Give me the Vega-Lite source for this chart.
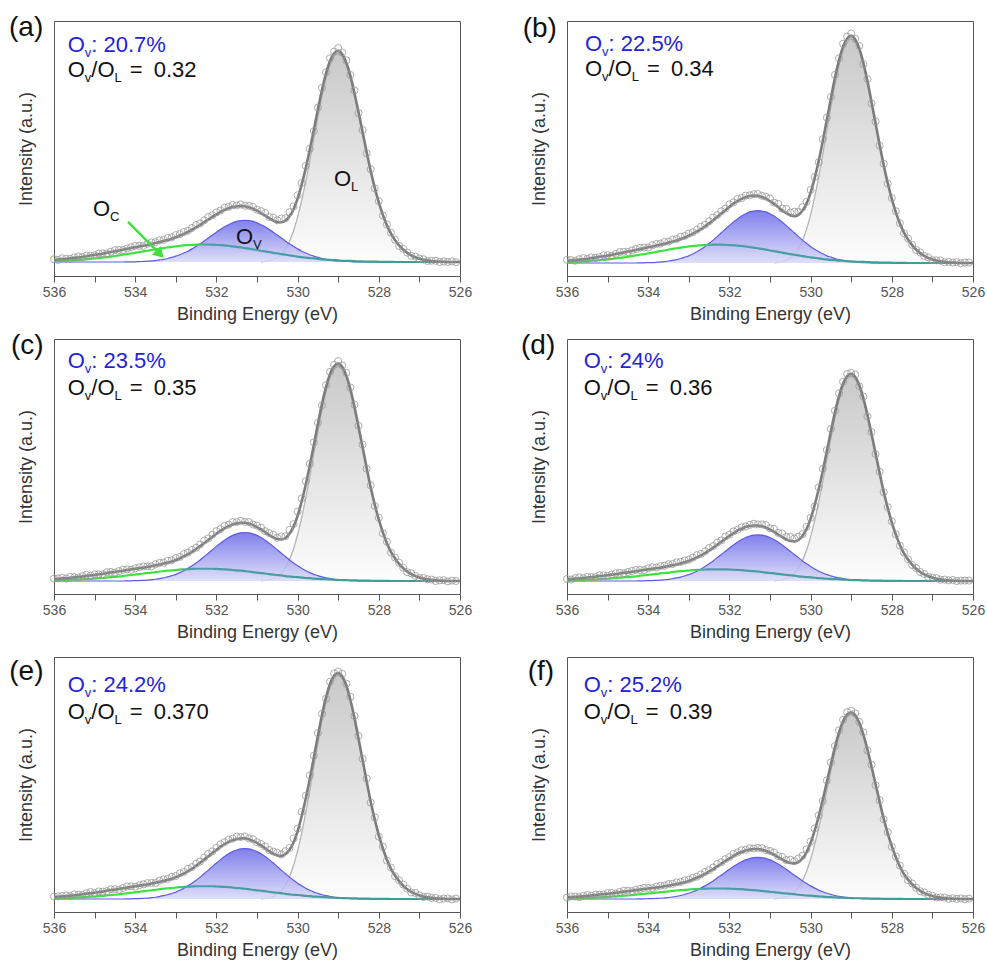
{
"$schema": "https://vega.github.io/schema/vega-lite/v6.json",
"background": "white",
"padding": {"left": 8, "top": 13, "right": 2, "bottom": 2},
"config": {"font": "Liberation Sans", "view": {"stroke": "#555", "strokeWidth": 1}, "axis": {"labelFont": "Liberation Sans", "titleFont": "Liberation Sans"}, "text": {"font": "Liberation Sans"}},
"datasets": {"xps": [
{"E":536.0,"VA":0,"VB":0,"VG":0,"CA":0.4,"CB":0.4,"CG":0.3,"FA":1.0,"FB":1.0,"FG":0.9,"oa":1.3,"ob":1.4,"oc":1.1,"od":1.0,"oe":1.1,"of":0.7},
{"E":535.9,"VA":0,"VB":0,"VG":0,"CA":0.5,"CB":0.5,"CG":0.3,"FA":1.2,"FB":1.2,"FG":1.0,"oa":1.0,"ob":1.3,"oc":1.2,"od":0.7,"oe":1.2,"of":1.4},
{"E":535.8,"VA":0,"VB":0,"VG":0,"CA":0.6,"CB":0.5,"CG":0.4,"FA":1.4,"FB":1.3,"FG":1.2,"oa":1.8,"ob":1.0,"oc":1.5,"od":1.4,"oe":1.4,"of":1.3},
{"E":535.7,"VA":0,"VB":0,"VG":0,"CA":0.6,"CB":0.6,"CG":0.4,"FA":1.5,"FB":1.5,"FG":1.3,"oa":1.6,"ob":1.7,"oc":1.1,"od":1.8,"oe":1.6,"of":1.0},
{"E":535.6,"VA":0,"VB":0,"VG":0,"CA":0.8,"CB":0.7,"CG":0.5,"FA":1.8,"FB":1.7,"FG":1.5,"oa":1.5,"ob":2.2,"oc":1.9,"od":1.4,"oe":1.3,"of":1.7},
{"E":535.5,"VA":0,"VB":0,"VG":0,"CA":0.9,"CB":0.8,"CG":0.6,"FA":2.0,"FB":1.9,"FG":1.7,"oa":2.2,"ob":1.8,"oc":1.8,"od":2.0,"oe":2.1,"of":2.2},
{"E":535.4,"VA":0,"VB":0,"VG":0,"CA":1.0,"CB":1.0,"CG":0.7,"FA":2.2,"FB":2.2,"FG":1.9,"oa":2.7,"ob":2.5,"oc":1.6,"od":1.9,"oe":2.0,"of":1.8},
{"E":535.3,"VA":0,"VB":0,"VG":0,"CA":1.1,"CB":1.1,"CG":0.8,"FA":2.4,"FB":2.4,"FG":2.1,"oa":2.3,"ob":2.4,"oc":2.3,"od":1.9,"oe":1.8,"of":2.4},
{"E":535.2,"VA":0,"VB":0,"VG":0,"CA":1.3,"CB":1.3,"CG":0.9,"FA":2.8,"FB":2.8,"FG":2.4,"oa":3.1,"ob":2.6,"oc":2.9,"od":2.8,"oe":2.6,"of":2.4},
{"E":535.1,"VA":0,"VB":0,"VG":0,"CA":1.5,"CB":1.4,"CG":1.0,"FA":3.1,"FB":3.0,"FG":2.6,"oa":3.1,"ob":3.4,"oc":2.5,"od":2.8,"oe":3.1,"of":2.4},
{"E":535.0,"VA":0,"VB":0,"VG":0,"CA":1.7,"CB":1.6,"CG":1.1,"FA":3.4,"FB":3.3,"FG":2.8,"oa":3.2,"ob":3.5,"oc":3.1,"od":2.5,"oe":2.7,"of":3.2},
{"E":534.9,"VA":0,"VB":0,"VG":0,"CA":1.9,"CB":1.8,"CG":1.3,"FA":3.7,"FB":3.6,"FG":3.1,"oa":4.1,"ob":3.3,"oc":3.1,"od":3.2,"oe":3.4,"of":3.3},
{"E":534.8,"VA":0,"VB":0,"VG":0,"CA":2.1,"CB":2.1,"CG":1.4,"FA":4.0,"FB":4.0,"FG":3.3,"oa":4.2,"ob":4.1,"oc":3.1,"od":3.8,"oe":3.3,"of":3.0},
{"E":534.7,"VA":0,"VB":0,"VG":0,"CA":2.3,"CB":2.3,"CG":1.6,"FA":4.4,"FB":4.4,"FG":3.7,"oa":4.1,"ob":4.9,"oc":4.1,"od":4.0,"oe":3.5,"of":3.8},
{"E":534.6,"VA":0,"VB":0,"VG":0,"CA":2.6,"CB":2.5,"CG":1.8,"FA":4.8,"FB":4.7,"FG":4.0,"oa":4.9,"ob":5.0,"oc":4.2,"od":3.8,"oe":4.4,"of":4.5},
{"E":534.5,"VA":0,"VB":0,"VG":0,"CA":2.9,"CB":2.8,"CG":1.9,"FA":5.2,"FB":5.1,"FG":4.2,"oa":5.7,"ob":4.9,"oc":3.9,"od":4.4,"oe":4.4,"of":4.5},
{"E":534.4,"VA":0,"VB":0,"VG":0,"CA":3.2,"CB":3.1,"CG":2.1,"FA":5.5,"FB":5.4,"FG":4.5,"oa":5.8,"ob":5.6,"oc":4.6,"od":4.9,"oe":4.2,"of":4.3},
{"E":534.3,"VA":0,"VB":0,"VG":0,"CA":3.5,"CB":3.4,"CG":2.3,"FA":5.9,"FB":5.8,"FG":4.8,"oa":5.7,"ob":6.2,"oc":5.3,"od":5.4,"oe":4.9,"of":5.0},
{"E":534.2,"VA":0.1,"VB":0.1,"VG":0.1,"CA":3.8,"CB":3.7,"CG":2.6,"FA":6.3,"FB":6.2,"FG":5.1,"oa":6.5,"ob":6.8,"oc":5.4,"od":5.4,"oe":5.6,"of":5.5},
{"E":534.1,"VA":0.1,"VB":0.1,"VG":0.1,"CA":4.1,"CB":4.0,"CG":2.8,"FA":6.7,"FB":6.6,"FG":5.4,"oa":7.1,"ob":6.9,"oc":5.2,"od":5.3,"oe":5.7,"of":6.0},
{"E":534.0,"VA":0.1,"VB":0.2,"VG":0.2,"CA":4.4,"CB":4.3,"CG":3.0,"FA":7.1,"FB":7.0,"FG":5.7,"oa":7.7,"ob":6.9,"oc":5.9,"od":6.2,"oe":5.5,"of":6.0},
{"E":533.9,"VA":0.2,"VB":0.2,"VG":0.2,"CA":4.8,"CB":4.6,"CG":3.2,"FA":7.5,"FB":7.4,"FG":6.0,"oa":7.8,"ob":7.9,"oc":6.4,"od":6.7,"oe":6.2,"of":5.9},
{"E":533.8,"VA":0.3,"VB":0.3,"VG":0.3,"CA":5.1,"CB":5.0,"CG":3.5,"FA":7.8,"FB":7.8,"FG":6.2,"oa":7.7,"ob":8.5,"oc":6.8,"od":6.6,"oe":6.6,"of":6.7},
{"E":533.7,"VA":0.4,"VB":0.5,"VG":0.4,"CA":5.4,"CB":5.3,"CG":3.7,"FA":8.2,"FB":8.2,"FG":6.5,"oa":8.7,"ob":8.6,"oc":6.8,"od":7.3,"oe":7.1,"of":7.2},
{"E":533.6,"VA":0.5,"VB":0.6,"VG":0.6,"CA":5.8,"CB":5.6,"CG":3.9,"FA":8.7,"FB":8.6,"FG":6.9,"oa":9.4,"ob":9.4,"oc":6.8,"od":7.4,"oe":7.2,"of":7.3},
{"E":533.5,"VA":0.7,"VB":0.9,"VG":0.8,"CA":6.1,"CB":6.0,"CG":4.1,"FA":9.1,"FB":9.1,"FG":7.3,"oa":9.5,"ob":9.6,"oc":7.8,"od":8.2,"oe":7.2,"of":8.1},
{"E":533.4,"VA":1.0,"VB":1.2,"VG":1.1,"CA":6.4,"CB":6.3,"CG":4.4,"FA":9.6,"FB":9.6,"FG":7.7,"oa":10.4,"ob":10.5,"oc":8.4,"od":8.3,"oe":8.2,"of":8.2},
{"E":533.3,"VA":1.3,"VB":1.5,"VG":1.5,"CA":6.7,"CB":6.6,"CG":4.6,"FA":10.1,"FB":10.1,"FG":8.1,"oa":10.6,"ob":10.7,"oc":8.5,"od":9.1,"oe":8.8,"of":9.0},
{"E":533.2,"VA":1.7,"VB":2.0,"VG":1.9,"CA":7.0,"CB":6.9,"CG":4.8,"FA":10.6,"FB":10.7,"FG":8.6,"oa":11.5,"ob":11.7,"oc":9.4,"od":9.3,"oe":9.0,"of":9.2},
{"E":533.1,"VA":2.2,"VB":2.6,"VG":2.5,"CA":7.3,"CB":7.1,"CG":4.9,"FA":11.2,"FB":11.4,"FG":9.1,"oa":11.8,"ob":12.1,"oc":9.6,"od":10.0,"oe":9.9,"of":10.1},
{"E":533.0,"VA":2.8,"VB":3.2,"VG":3.1,"CA":7.5,"CB":7.4,"CG":5.1,"FA":11.9,"FB":12.2,"FG":9.8,"oa":12.9,"ob":13.1,"oc":10.7,"od":10.4,"oe":10.3,"of":10.5},
{"E":532.9,"VA":3.5,"VB":4.1,"VG":3.9,"CA":7.8,"CB":7.6,"CG":5.3,"FA":12.7,"FB":13.1,"FG":10.6,"oa":13.4,"ob":13.7,"oc":11.2,"od":11.4,"oe":11.5,"of":11.5},
{"E":532.8,"VA":4.3,"VB":5.0,"VG":4.8,"CA":8.0,"CB":7.8,"CG":5.4,"FA":13.5,"FB":14.1,"FG":11.5,"oa":14.4,"ob":14.9,"oc":12.5,"od":12.6,"oe":12.1,"of":12.1},
{"E":532.7,"VA":5.2,"VB":6.1,"VG":5.9,"CA":8.1,"CB":7.9,"CG":5.5,"FA":14.4,"FB":15.1,"FG":12.5,"oa":15.0,"ob":16.2,"oc":13.2,"od":13.2,"oe":13.5,"of":13.3},
{"E":532.6,"VA":6.3,"VB":7.4,"VG":7.1,"CA":8.2,"CB":8.0,"CG":5.6,"FA":15.5,"FB":16.4,"FG":13.6,"oa":16.3,"ob":17.1,"oc":14.5,"od":14.5,"oe":14.3,"of":14.7},
{"E":532.5,"VA":7.5,"VB":8.7,"VG":8.4,"CA":8.3,"CB":8.1,"CG":5.7,"FA":16.6,"FB":17.7,"FG":14.9,"oa":17.7,"ob":18.6,"oc":15.5,"od":16.1,"oe":15.8,"of":15.6},
{"E":532.4,"VA":8.7,"VB":10.2,"VG":9.8,"CA":8.4,"CB":8.2,"CG":5.7,"FA":17.8,"FB":19.1,"FG":16.2,"oa":18.5,"ob":20.3,"oc":17.0,"od":17.0,"oe":16.8,"of":17.1},
{"E":532.3,"VA":10.1,"VB":11.8,"VG":11.4,"CA":8.4,"CB":8.2,"CG":5.7,"FA":19.1,"FB":20.6,"FG":17.7,"oa":20.0,"ob":21.4,"oc":18.8,"od":18.7,"oe":18.5,"of":18.9},
{"E":532.2,"VA":11.5,"VB":13.5,"VG":12.9,"CA":8.4,"CB":8.2,"CG":5.7,"FA":20.4,"FB":22.1,"FG":19.1,"oa":21.6,"ob":23.1,"oc":19.8,"od":19.8,"oe":20.2,"of":19.9},
{"E":532.1,"VA":12.9,"VB":15.1,"VG":14.5,"CA":8.3,"CB":8.1,"CG":5.7,"FA":21.6,"FB":23.6,"FG":20.6,"oa":22.4,"ob":24.3,"oc":21.5,"od":21.7,"oe":21.3,"of":21.6},
{"E":532.0,"VA":14.3,"VB":16.7,"VG":16.1,"CA":8.2,"CB":8.0,"CG":5.6,"FA":22.8,"FB":25.1,"FG":22.0,"oa":23.8,"ob":26.2,"oc":23.2,"od":22.6,"oe":22.9,"of":22.7},
{"E":531.9,"VA":15.6,"VB":18.3,"VG":17.6,"CA":8.1,"CB":7.9,"CG":5.5,"FA":24.0,"FB":26.5,"FG":23.3,"oa":24.7,"ob":27.1,"oc":24.1,"od":24.2,"oe":24.5,"of":24.4},
{"E":531.8,"VA":16.9,"VB":19.7,"VG":19.0,"CA":8.0,"CB":7.8,"CG":5.4,"FA":25.0,"FB":27.7,"FG":24.6,"oa":26.1,"ob":28.6,"oc":25.6,"od":25.0,"oe":25.4,"of":25.2},
{"E":531.7,"VA":17.9,"VB":21.0,"VG":20.2,"CA":7.8,"CB":7.6,"CG":5.3,"FA":25.8,"FB":28.6,"FG":25.5,"oa":26.4,"ob":29.0,"oc":26.2,"od":26.2,"oe":26.5,"of":26.4},
{"E":531.6,"VA":18.8,"VB":22.0,"VG":21.2,"CA":7.5,"CB":7.4,"CG":5.1,"FA":26.4,"FB":29.4,"FG":26.3,"oa":27.3,"ob":30.1,"oc":27.4,"od":26.6,"oe":27.0,"of":26.7},
{"E":531.5,"VA":19.5,"VB":22.8,"VG":21.9,"CA":7.3,"CB":7.1,"CG":4.9,"FA":26.7,"FB":29.9,"FG":26.8,"oa":27.1,"ob":30.2,"oc":27.4,"od":27.4,"oe":27.9,"of":27.5},
{"E":531.4,"VA":19.9,"VB":23.2,"VG":22.4,"CA":7.0,"CB":6.9,"CG":4.8,"FA":26.9,"FB":30.1,"FG":27.1,"oa":27.6,"ob":30.7,"oc":28.0,"od":27.9,"oe":27.7,"of":27.4},
{"E":531.3,"VA":20.0,"VB":23.4,"VG":22.5,"CA":6.7,"CB":6.6,"CG":4.6,"FA":26.7,"FB":30.0,"FG":27.1,"oa":27.0,"ob":30.8,"oc":27.5,"od":27.6,"oe":28.0,"of":27.7},
{"E":531.2,"VA":19.9,"VB":23.2,"VG":22.4,"CA":6.4,"CB":6.3,"CG":4.4,"FA":26.3,"FB":29.5,"FG":26.7,"oa":26.9,"ob":30.0,"oc":27.4,"od":27.6,"oe":27.1,"of":27.5},
{"E":531.1,"VA":19.5,"VB":22.8,"VG":21.9,"CA":6.1,"CB":6.0,"CG":4.1,"FA":25.6,"FB":28.7,"FG":26.0,"oa":26.4,"ob":29.6,"oc":26.3,"od":27.2,"oe":26.7,"of":26.5},
{"E":531.0,"VA":18.8,"VB":22.0,"VG":21.2,"CA":5.8,"CB":5.6,"CG":3.9,"FA":24.6,"FB":27.6,"FG":25.1,"oa":25.1,"ob":28.8,"oc":25.7,"od":25.7,"oe":25.4,"of":26.0},
{"E":530.9,"L":0.1,"VA":17.9,"VB":21.0,"VG":20.2,"CA":5.4,"CB":5.3,"CG":3.7,"FA":23.5,"FB":26.4,"FG":24.0,"oa":24.4,"ob":27.0,"oc":24.8,"od":25.4,"oe":24.6,"of":25.2},
{"E":530.8,"L":0.3,"VA":16.9,"VB":19.7,"VG":19.0,"CA":5.1,"CB":5.0,"CG":3.5,"FA":22.3,"FB":25.0,"FG":22.7,"oa":23.5,"ob":26.4,"oc":23.2,"od":23.5,"oe":23.5,"of":23.3},
{"E":530.7,"L":0.6,"VA":15.6,"VB":18.3,"VG":17.6,"CA":4.8,"CB":4.6,"CG":3.2,"FA":21.0,"FB":23.5,"FG":21.4,"oa":21.6,"ob":24.3,"oc":22.3,"od":23.2,"oe":21.9,"of":22.8},
{"E":530.6,"L":1.2,"VA":14.3,"VB":16.7,"VG":16.1,"CA":4.4,"CB":4.3,"CG":3.0,"FA":19.9,"FB":22.3,"FG":20.3,"oa":21.3,"ob":24.1,"oc":21.5,"od":21.5,"oe":21.2,"of":21.1},
{"E":530.5,"L":2.2,"VA":12.9,"VB":15.1,"VG":14.5,"CA":4.1,"CB":4.0,"CG":2.8,"FA":19.2,"FB":21.3,"FG":19.5,"oa":20.0,"ob":22.5,"oc":20.1,"od":21.5,"oe":20.7,"of":21.3},
{"E":530.4,"L":3.8,"VA":11.5,"VB":13.5,"VG":12.9,"CA":3.8,"CB":3.7,"CG":2.6,"FA":19.1,"FB":20.9,"FG":19.3,"oa":20.9,"ob":22.9,"oc":20.7,"od":20.7,"oe":19.9,"of":20.5},
{"E":530.3,"L":6.3,"VA":10.1,"VB":11.8,"VG":11.4,"CA":3.5,"CB":3.4,"CG":2.3,"FA":19.8,"FB":21.5,"FG":20.0,"oa":21.0,"ob":22.9,"oc":20.8,"od":21.6,"oe":21.4,"of":22.0},
{"E":530.2,"L":10,"VA":8.7,"VB":10.2,"VG":9.8,"CA":3.2,"CB":3.1,"CG":2.1,"FA":21.9,"FB":23.3,"FG":22.0,"oa":23.9,"ob":24.9,"oc":23.8,"od":22.8,"oe":22.8,"of":23.4},
{"E":530.1,"L":15,"VA":7.5,"VB":8.7,"VG":8.4,"CA":2.9,"CB":2.8,"CG":1.9,"FA":25.3,"FB":26.5,"FG":25.3,"oa":26.7,"ob":27.3,"oc":26.5,"od":26.5,"oe":27.1,"of":26.9},
{"E":530.0,"L":21.5,"VA":6.3,"VB":7.4,"VG":7.1,"CA":2.6,"CB":2.5,"CG":1.8,"FA":30.4,"FB":31.4,"FG":30.3,"oa":32.0,"ob":32.6,"oc":32.3,"od":30.8,"oe":31.5,"of":31.1},
{"E":529.9,"L":29.5,"VA":5.2,"VB":6.1,"VG":5.9,"CA":2.3,"CB":2.3,"CG":1.6,"FA":37.1,"FB":37.9,"FG":37.0,"oa":37.9,"ob":38.4,"oc":38.4,"od":36.4,"oe":39.0,"of":38.2},
{"E":529.8,"L":38.5,"VA":4.3,"VB":5.0,"VG":4.8,"CA":2.1,"CB":2.1,"CG":1.4,"FA":44.9,"FB":45.6,"FG":44.8,"oa":46.1,"ob":45.0,"oc":46.4,"od":45.7,"oe":46.2,"of":45.3},
{"E":529.7,"L":48.5,"VA":3.5,"VB":4.1,"VG":3.9,"CA":1.9,"CB":1.8,"CG":1.3,"FA":53.8,"FB":54.4,"FG":53.7,"oa":54.3,"ob":55.3,"oc":54.5,"od":54.7,"oe":55.3,"of":53.1},
{"E":529.6,"L":59,"VA":2.8,"VB":3.2,"VG":3.1,"CA":1.7,"CB":1.6,"CG":1.1,"FA":63.4,"FB":63.9,"FG":63.3,"oa":62.8,"ob":64.9,"oc":64.5,"od":63.9,"oe":64.1,"of":64.2},
{"E":529.5,"L":69.5,"VA":2.2,"VB":2.6,"VG":2.5,"CA":1.5,"CB":1.4,"CG":1.0,"FA":73.2,"FB":73.5,"FG":73.0,"oa":74.1,"ob":74.1,"oc":73.5,"od":74.2,"oe":74.2,"of":74.0},
{"E":529.4,"L":79.5,"VA":1.7,"VB":2.0,"VG":1.9,"CA":1.3,"CB":1.3,"CG":0.9,"FA":82.5,"FB":82.8,"FG":82.3,"oa":83.5,"ob":84.0,"oc":81.7,"od":83.1,"oe":82.8,"of":82.9},
{"E":529.3,"L":88,"VA":1.3,"VB":1.5,"VG":1.5,"CA":1.1,"CB":1.1,"CG":0.8,"FA":90.4,"FB":90.6,"FG":90.2,"oa":91.0,"ob":91.4,"oc":91.1,"od":91.5,"oe":89.6,"of":91.4},
{"E":529.2,"L":94.5,"VA":1.0,"VB":1.2,"VG":1.1,"CA":1.0,"CB":1.0,"CG":0.7,"FA":96.5,"FB":96.6,"FG":96.3,"oa":97.7,"ob":97.9,"oc":97.3,"od":97.2,"oe":97.2,"of":97.1},
{"E":529.1,"L":98.5,"VA":0.7,"VB":0.9,"VG":0.8,"CA":0.9,"CB":0.8,"CG":0.6,"FA":100.1,"FB":100.2,"FG":99.9,"oa":100.9,"ob":101.1,"oc":100.5,"od":101.0,"oe":100.9,"of":101.2},
{"E":529.0,"L":100,"VA":0.5,"VB":0.6,"VG":0.6,"CA":0.8,"CB":0.7,"CG":0.5,"FA":101.3,"FB":101.4,"FG":101.1,"oa":102.6,"ob":102.5,"oc":102.3,"od":101.5,"oe":101.7,"of":102.0},
{"E":528.9,"L":98.6,"VA":0.4,"VB":0.5,"VG":0.4,"CA":0.6,"CB":0.6,"CG":0.4,"FA":99.6,"FB":99.7,"FG":99.5,"oa":100.5,"ob":100.1,"oc":100.3,"od":100.7,"oe":100.7,"of":100.6},
{"E":528.8,"L":94.8,"VA":0.3,"VB":0.3,"VG":0.3,"CA":0.6,"CB":0.5,"CG":0.4,"FA":95.6,"FB":95.7,"FG":95.5,"oa":96.7,"ob":96.9,"oc":96.8,"od":95.0,"oe":96.3,"of":95.9},
{"E":528.7,"L":88.6,"VA":0.2,"VB":0.2,"VG":0.2,"CA":0.5,"CB":0.5,"CG":0.3,"FA":89.3,"FB":89.3,"FG":89.1,"oa":89.7,"ob":88.8,"oc":90.0,"od":90.0,"oe":90.4,"of":90.3},
{"E":528.6,"L":80.6,"VA":0.1,"VB":0.2,"VG":0.2,"CA":0.4,"CB":0.4,"CG":0.3,"FA":81.1,"FB":81.2,"FG":81.0,"oa":82.3,"ob":82.1,"oc":82.1,"od":80.3,"oe":81.9,"of":80.5},
{"E":528.5,"L":71.5,"VA":0.1,"VB":0.1,"VG":0.1,"CA":0.3,"CB":0.3,"CG":0.2,"FA":71.9,"FB":71.9,"FG":71.8,"oa":71.4,"ob":71.2,"oc":72.2,"od":72.6,"oe":72.9,"of":72.7},
{"E":528.4,"L":62,"VA":0.1,"VB":0.1,"VG":0.1,"CA":0.3,"CB":0.3,"CG":0.2,"FA":62.4,"FB":62.4,"FG":62.3,"oa":63.3,"ob":63.2,"oc":63.5,"od":61.9,"oe":62.7,"of":61.6},
{"E":528.3,"L":52.5,"VA":0,"VB":0,"VG":0,"CA":0.2,"CB":0.2,"CG":0.2,"FA":52.8,"FB":52.8,"FG":52.7,"oa":52.1,"ob":52.4,"oc":52.2,"od":53.3,"oe":53.9,"of":53.5},
{"E":528.2,"L":43.5,"VA":0,"VB":0,"VG":0,"CA":0.2,"CB":0.2,"CG":0.1,"FA":43.7,"FB":43.7,"FG":43.6,"oa":44.5,"ob":44.3,"oc":44.5,"od":43.3,"oe":43.1,"of":43.2},
{"E":528.1,"L":35.5,"VA":0,"VB":0,"VG":0,"CA":0.2,"CB":0.2,"CG":0.1,"FA":35.7,"FB":35.7,"FG":35.6,"oa":35.3,"ob":35.4,"oc":34.9,"od":36.0,"oe":36.5,"of":36.2},
{"E":528.0,"L":28.5,"VA":0,"VB":0,"VG":0,"CA":0.1,"CB":0.1,"CG":0.1,"FA":28.6,"FB":28.6,"FG":28.6,"oa":29.2,"ob":29.0,"oc":29.4,"od":29.1,"oe":27.9,"of":28.3},
{"E":527.9,"L":22.5,"VA":0,"VB":0,"VG":0,"CA":0.1,"CB":0.1,"CG":0.1,"FA":22.6,"FB":22.6,"FG":22.6,"oa":22.3,"ob":23.1,"oc":22.2,"od":22.8,"oe":23.4,"of":23.0},
{"E":527.8,"L":17.5,"VA":0,"VB":0,"VG":0,"CA":0.1,"CB":0.1,"CG":0.1,"FA":17.6,"FB":17.6,"FG":17.6,"oa":18.0,"ob":17.8,"oc":18.2,"od":17.3,"oe":17.2,"of":18.1},
{"E":527.7,"L":13.5,"VA":0,"VB":0,"VG":0,"CA":0.1,"CB":0.1,"CG":0,"FA":13.6,"FB":13.6,"FG":13.5,"oa":14.1,"ob":13.3,"oc":13.2,"od":13.9,"oe":14.1,"of":13.7},
{"E":527.6,"L":10.5,"VA":0,"VB":0,"VG":0,"CA":0,"CB":0,"CG":0,"FA":10.5,"FB":10.5,"FG":10.5,"oa":10.7,"ob":10.9,"oc":10.9,"od":10.6,"oe":10.2,"of":10.2},
{"E":527.5,"L":8.0,"VA":0,"VB":0,"VG":0,"CA":0,"CB":0,"CG":0,"FA":8.0,"FB":8.0,"FG":8.0,"oa":7.7,"ob":8.1,"oc":8.5,"od":7.8,"oe":8.4,"of":8.4},
{"E":527.4,"L":6.0,"VA":0,"VB":0,"VG":0,"CA":0,"CB":0,"CG":0,"FA":6.0,"FB":6.0,"FG":6.0,"oa":6.4,"ob":5.8,"oc":6.2,"od":6.3,"oe":6.5,"of":6.1},
{"E":527.3,"L":4.4,"VA":0,"VB":0,"VG":0,"CA":0,"CB":0,"CG":0,"FA":4.4,"FB":4.4,"FG":4.4,"oa":4.5,"ob":4.7,"oc":4.1,"od":4.4,"oe":4.6,"of":4.2},
{"E":527.2,"L":3.2,"VA":0,"VB":0,"VG":0,"CA":0,"CB":0,"CG":0,"FA":3.2,"FB":3.2,"FG":3.2,"oa":3.0,"ob":3.2,"oc":3.6,"od":3.4,"oe":2.9,"of":3.5},
{"E":527.1,"L":2.3,"VA":0,"VB":0,"VG":0,"CA":0,"CB":0,"CG":0,"FA":2.3,"FB":2.3,"FG":2.3,"oa":2.6,"ob":2.5,"oc":2.4,"od":2.0,"oe":2.7,"of":2.3},
{"E":527.0,"L":1.6,"VA":0,"VB":0,"VG":0,"CA":0,"CB":0,"CG":0,"FA":1.6,"FB":1.6,"FG":1.6,"oa":1.6,"ob":1.3,"oc":1.4,"od":1.7,"oe":1.7,"of":1.8},
{"E":526.9,"L":1.1,"VA":0,"VB":0,"VG":0,"CA":0,"CB":0,"CG":0,"FA":1.1,"FB":1.1,"FG":1.1,"oa":1.3,"ob":1.2,"oc":1.4,"od":1.4,"oe":0.9,"of":0.8},
{"E":526.8,"L":0.8,"VA":0,"VB":0,"VG":0,"CA":0,"CB":0,"CG":0,"FA":0.8,"FB":0.8,"FG":0.8,"oa":0.5,"ob":1.1,"oc":0.8,"od":0.6,"oe":1.1,"of":0.9},
{"E":526.7,"L":0.5,"VA":0,"VB":0,"VG":0,"CA":0,"CB":0,"CG":0,"FA":0.5,"FB":0.5,"FG":0.5,"oa":0.6,"ob":0.3,"oc":0.7,"od":0.7,"oe":0.5,"of":0.8},
{"E":526.6,"L":0.3,"VA":0,"VB":0,"VG":0,"CA":0,"CB":0,"CG":0,"FA":0.3,"FB":0.3,"FG":0.3,"oa":0.6,"ob":0.5,"oc":0.0,"od":0.3,"oe":0.5,"of":0.1},
{"E":526.5,"L":0.2,"VA":0,"VB":0,"VG":0,"CA":0,"CB":0,"CG":0,"FA":0.2,"FB":0.2,"FG":0.2,"oa":0.0,"ob":0.2,"oc":0.3,"od":0.5,"oe":-0.1,"of":0.4},
{"E":526.4,"L":0.1,"VA":0,"VB":0,"VG":0,"CA":0,"CB":0,"CG":0,"FA":0.1,"FB":0.1,"FG":0.1,"oa":0.3,"ob":0.4,"oc":0.4,"od":0.0,"oe":0.2,"of":0.1},
{"E":526.3,"VA":0,"VB":0,"VG":0,"CA":0,"CB":0,"CG":0,"FA":0,"FB":0,"FG":0,"oa":0.0,"ob":-0.1,"oc":-0.2,"od":0.2,"oe":0.3,"of":0.3},
{"E":526.2,"VA":0,"VB":0,"VG":0,"CA":0,"CB":0,"CG":0,"FA":0,"FB":0,"FG":0,"oa":0.3,"ob":0.2,"oc":0.2,"od":0.2,"oe":-0.2,"of":-0.1},
{"E":526.1,"VA":0,"VB":0,"VG":0,"CA":0,"CB":0,"CG":0,"FA":0,"FB":0,"FG":0,"oa":-0.1,"ob":0.2,"oc":0.0,"od":0.2,"oe":0.2,"of":0.2},
{"E":526.0,"VA":0,"VB":0,"VG":0,"CA":0,"CB":0,"CG":0,"FA":0,"FB":0,"FG":0}
]},
"columns": 2,
"spacing": {"row": 63, "column": 107},
"bounds": "flush",
"concat": [
{
"width": 406, "height": 255, "data": {"name": "xps"},
"encoding": {"x": {"field": "E", "type": "quantitative", "scale": {"domain": [526, 536], "reverse": true, "nice": false, "zero": false}, "axis": {"title": "Binding Energy (eV)", "values": [526,527,528,529,530,531,532,533,534,535,536], "labelExpr": "datum.value % 2 === 0 ? datum.label : ''", "grid": false, "domain": false, "tickColor": "#555", "tickSize": 6, "labelFontSize": 14, "labelColor": "#555", "labelPadding": 3, "labelFlush": false, "titleFontSize": 18, "titleFontWeight": "normal", "titleColor": "#333", "titlePadding": 6}}},
"layer": [
{"mark": {"type": "area", "interpolate": "monotone", "fill": {"gradient": "linear", "x1": 0, "y1": 0, "x2": 0, "y2": 1, "stops": [{"offset": 0, "color": "#c9c9c9"}, {"offset": 1, "color": "#fdfdfd"}]}}, "encoding": {"y": {"field": "L", "type": "quantitative", "scale": {"domain": [-6.71, 115.59], "nice": false, "zero": false}, "axis": {"title": "Intensity (a.u.)", "labels": false, "ticks": false, "domain": false, "grid": false, "titleFontSize": 18, "titleFontWeight": "normal", "titleColor": "#333", "titlePadding": 19}}}},
{"mark": {"type": "line", "interpolate": "monotone", "stroke": "#b4b4b4", "strokeWidth": 1.3}, "encoding": {"y": {"field": "L", "type": "quantitative"}}},
{"mark": {"type": "area", "interpolate": "monotone", "fillOpacity": 0.85, "fill": {"gradient": "linear", "x1": 0, "y1": 0, "x2": 0, "y2": 1, "stops": [{"offset": 0, "color": "#6a6ae8"}, {"offset": 1, "color": "#d9d9f8"}]}}, "encoding": {"y": {"field": "VA", "type": "quantitative"}}},
{"mark": {"type": "line", "interpolate": "monotone", "stroke": "#5b5be8", "strokeWidth": 1.2}, "encoding": {"y": {"field": "VA", "type": "quantitative"}}},
{"mark": {"type": "line", "interpolate": "monotone", "strokeWidth": 2.2, "stroke": {"gradient": "linear", "x1": 0, "y1": 0, "x2": 1, "y2": 0, "stops": [{"offset": 0, "color": "#3ee23e"}, {"offset": 0.345, "color": "#3ee23e"}, {"offset": 0.375, "color": "#4c9eab"}, {"offset": 1, "color": "#3d9b8e"}]}}, "encoding": {"y": {"field": "CA", "type": "quantitative"}}},
{"mark": {"type": "line", "interpolate": "monotone", "stroke": "#7c7c7c", "strokeWidth": 2.6}, "encoding": {"y": {"field": "FA", "type": "quantitative"}}},
{"mark": {"type": "point", "shape": "circle", "filled": false, "color": "#999999", "strokeWidth": 1, "size": 50, "opacity": 0.8}, "encoding": {"y": {"field": "oa", "type": "quantitative"}}},
{"data": {"values": [{"E": 534.177, "I": 19.2, "E2": 533.389, "I2": 3.8}]}, "mark": {"type": "rule", "color": "#3ee03e", "strokeWidth": 2.5}, "encoding": {"y": {"field": "I", "type": "quantitative"}, "x2": {"field": "E2"}, "y2": {"field": "I2"}}},
{"data": {"values": [{"E": 533.389, "I": 3.8}]}, "mark": {"type": "point", "shape": "triangle-up", "angle": 135, "filled": true, "color": "#3ee03e", "size": 150, "opacity": 1}, "encoding": {"y": {"field": "I", "type": "quantitative"}}},
{"data": {"values": [{"E": 537.108, "I": 108.4, "t": "(a)"}]}, "mark": {"type": "text", "align": "left", "baseline": "alphabetic", "fontSize": 28, "color": "#111"}, "encoding": {"y": {"field": "I", "type": "quantitative"}, "text": {"field": "t"}}},
{"data": {"values": [{"E": 535.663, "I": 100.7, "t": "O"}, {"E": 535.082, "I": 100.7, "t": ": 20.7%"}]}, "mark": {"type": "text", "align": "left", "baseline": "alphabetic", "fontSize": 22, "color": "#2323d8"}, "encoding": {"y": {"field": "I", "type": "quantitative"}, "text": {"field": "t"}}},
{"data": {"values": [{"E": 535.242, "I": 100.7, "t": "v"}]}, "mark": {"type": "text", "align": "left", "baseline": "alphabetic", "fontSize": 13, "dy": 5, "color": "#2323d8"}, "encoding": {"y": {"field": "I", "type": "quantitative"}, "text": {"field": "t"}}},
{"data": {"values": [{"E": 535.663, "I": 88.7, "t": "O"}, {"E": 535.082, "I": 88.7, "t": "/O"}, {"E": 534.136, "I": 88.7, "t": "="}, {"E": 533.545, "I": 88.7, "t": "0.32"}, {"E": 529.103, "I": 36.5, "t": "O"}, {"E": 531.517, "I": 8.6, "t": "O"}, {"E": 535.039, "I": 22.1, "t": "O"}]}, "mark": {"type": "text", "align": "left", "baseline": "alphabetic", "fontSize": 22, "color": "#111"}, "encoding": {"y": {"field": "I", "type": "quantitative"}, "text": {"field": "t"}}},
{"data": {"values": [{"E": 535.242, "I": 88.7, "t": "v"}, {"E": 534.51, "I": 88.7, "t": "L"}, {"E": 528.682, "I": 36.5, "t": "L"}, {"E": 531.096, "I": 8.6, "t": "V"}, {"E": 534.618, "I": 22.1, "t": "C"}]}, "mark": {"type": "text", "align": "left", "baseline": "alphabetic", "fontSize": 13, "dy": 5, "color": "#111"}, "encoding": {"y": {"field": "I", "type": "quantitative"}, "text": {"field": "t"}}}
]
},
{
"width": 406, "height": 255, "data": {"name": "xps"},
"encoding": {"x": {"field": "E", "type": "quantitative", "scale": {"domain": [526, 536], "reverse": true, "nice": false, "zero": false}, "axis": {"title": "Binding Energy (eV)", "values": [526,527,528,529,530,531,532,533,534,535,536], "labelExpr": "datum.value % 2 === 0 ? datum.label : ''", "grid": false, "domain": false, "tickColor": "#555", "tickSize": 6, "labelFontSize": 14, "labelColor": "#555", "labelPadding": 3, "labelFlush": false, "titleFontSize": 18, "titleFontWeight": "normal", "titleColor": "#333", "titlePadding": 6}}},
"layer": [
{"mark": {"type": "area", "interpolate": "monotone", "fill": {"gradient": "linear", "x1": 0, "y1": 0, "x2": 0, "y2": 1, "stops": [{"offset": 0, "color": "#c9c9c9"}, {"offset": 1, "color": "#fdfdfd"}]}}, "encoding": {"y": {"field": "L", "type": "quantitative", "scale": {"domain": [-5.80, 108.04], "nice": false, "zero": false}, "axis": {"title": "Intensity (a.u.)", "labels": false, "ticks": false, "domain": false, "grid": false, "titleFontSize": 18, "titleFontWeight": "normal", "titleColor": "#333", "titlePadding": 19}}}},
{"mark": {"type": "line", "interpolate": "monotone", "stroke": "#b4b4b4", "strokeWidth": 1.3}, "encoding": {"y": {"field": "L", "type": "quantitative"}}},
{"mark": {"type": "area", "interpolate": "monotone", "fillOpacity": 0.85, "fill": {"gradient": "linear", "x1": 0, "y1": 0, "x2": 0, "y2": 1, "stops": [{"offset": 0, "color": "#6a6ae8"}, {"offset": 1, "color": "#d9d9f8"}]}}, "encoding": {"y": {"field": "VB", "type": "quantitative"}}},
{"mark": {"type": "line", "interpolate": "monotone", "stroke": "#5b5be8", "strokeWidth": 1.2}, "encoding": {"y": {"field": "VB", "type": "quantitative"}}},
{"mark": {"type": "line", "interpolate": "monotone", "strokeWidth": 2.2, "stroke": {"gradient": "linear", "x1": 0, "y1": 0, "x2": 1, "y2": 0, "stops": [{"offset": 0, "color": "#3ee23e"}, {"offset": 0.33, "color": "#3ee23e"}, {"offset": 0.36, "color": "#4c9eab"}, {"offset": 1, "color": "#3d9b8e"}]}}, "encoding": {"y": {"field": "CB", "type": "quantitative"}}},
{"mark": {"type": "line", "interpolate": "monotone", "stroke": "#7c7c7c", "strokeWidth": 2.6}, "encoding": {"y": {"field": "FB", "type": "quantitative"}}},
{"mark": {"type": "point", "shape": "circle", "filled": false, "color": "#999999", "strokeWidth": 1, "size": 50, "opacity": 0.8}, "encoding": {"y": {"field": "ob", "type": "quantitative"}}},
{"data": {"values": [{"E": 537.091, "I": 100.9, "t": "(b)"}]}, "mark": {"type": "text", "align": "left", "baseline": "alphabetic", "fontSize": 28, "color": "#111"}, "encoding": {"y": {"field": "I", "type": "quantitative"}, "text": {"field": "t"}}},
{"data": {"values": [{"E": 535.557, "I": 94.6, "t": "O"}, {"E": 534.976, "I": 94.6, "t": ": 22.5%"}]}, "mark": {"type": "text", "align": "left", "baseline": "alphabetic", "fontSize": 22, "color": "#2323d8"}, "encoding": {"y": {"field": "I", "type": "quantitative"}, "text": {"field": "t"}}},
{"data": {"values": [{"E": 535.136, "I": 94.6, "t": "v"}]}, "mark": {"type": "text", "align": "left", "baseline": "alphabetic", "fontSize": 13, "dy": 5, "color": "#2323d8"}, "encoding": {"y": {"field": "I", "type": "quantitative"}, "text": {"field": "t"}}},
{"data": {"values": [{"E": 535.557, "I": 83.5, "t": "O"}, {"E": 534.976, "I": 83.5, "t": "/O"}, {"E": 534.03, "I": 83.5, "t": "="}, {"E": 533.439, "I": 83.5, "t": "0.34"}]}, "mark": {"type": "text", "align": "left", "baseline": "alphabetic", "fontSize": 22, "color": "#111"}, "encoding": {"y": {"field": "I", "type": "quantitative"}, "text": {"field": "t"}}},
{"data": {"values": [{"E": 535.136, "I": 83.5, "t": "v"}, {"E": 534.404, "I": 83.5, "t": "L"}]}, "mark": {"type": "text", "align": "left", "baseline": "alphabetic", "fontSize": 13, "dy": 5, "color": "#111"}, "encoding": {"y": {"field": "I", "type": "quantitative"}, "text": {"field": "t"}}}
]
},
{
"width": 406, "height": 255, "data": {"name": "xps"},
"encoding": {"x": {"field": "E", "type": "quantitative", "scale": {"domain": [526, 536], "reverse": true, "nice": false, "zero": false}, "axis": {"title": "Binding Energy (eV)", "values": [526,527,528,529,530,531,532,533,534,535,536], "labelExpr": "datum.value % 2 === 0 ? datum.label : ''", "grid": false, "domain": false, "tickColor": "#555", "tickSize": 6, "labelFontSize": 14, "labelColor": "#555", "labelPadding": 3, "labelFlush": false, "titleFontSize": 18, "titleFontWeight": "normal", "titleColor": "#333", "titlePadding": 6}}},
"layer": [
{"mark": {"type": "area", "interpolate": "monotone", "fill": {"gradient": "linear", "x1": 0, "y1": 0, "x2": 0, "y2": 1, "stops": [{"offset": 0, "color": "#c9c9c9"}, {"offset": 1, "color": "#fdfdfd"}]}}, "encoding": {"y": {"field": "L", "type": "quantitative", "scale": {"domain": [-6.05, 112.56], "nice": false, "zero": false}, "axis": {"title": "Intensity (a.u.)", "labels": false, "ticks": false, "domain": false, "grid": false, "titleFontSize": 18, "titleFontWeight": "normal", "titleColor": "#333", "titlePadding": 19}}}},
{"mark": {"type": "line", "interpolate": "monotone", "stroke": "#b4b4b4", "strokeWidth": 1.3}, "encoding": {"y": {"field": "L", "type": "quantitative"}}},
{"mark": {"type": "area", "interpolate": "monotone", "fillOpacity": 0.85, "fill": {"gradient": "linear", "x1": 0, "y1": 0, "x2": 0, "y2": 1, "stops": [{"offset": 0, "color": "#6a6ae8"}, {"offset": 1, "color": "#d9d9f8"}]}}, "encoding": {"y": {"field": "VG", "type": "quantitative"}}},
{"mark": {"type": "line", "interpolate": "monotone", "stroke": "#5b5be8", "strokeWidth": 1.2}, "encoding": {"y": {"field": "VG", "type": "quantitative"}}},
{"mark": {"type": "line", "interpolate": "monotone", "strokeWidth": 2.2, "stroke": {"gradient": "linear", "x1": 0, "y1": 0, "x2": 1, "y2": 0, "stops": [{"offset": 0, "color": "#3ee23e"}, {"offset": 0.3, "color": "#3ee23e"}, {"offset": 0.33, "color": "#4c9eab"}, {"offset": 1, "color": "#3d9b8e"}]}}, "encoding": {"y": {"field": "CG", "type": "quantitative"}}},
{"mark": {"type": "line", "interpolate": "monotone", "stroke": "#7c7c7c", "strokeWidth": 2.6}, "encoding": {"y": {"field": "FG", "type": "quantitative"}}},
{"mark": {"type": "point", "shape": "circle", "filled": false, "color": "#999999", "strokeWidth": 1, "size": 50, "opacity": 0.8}, "encoding": {"y": {"field": "oc", "type": "quantitative"}}},
{"data": {"values": [{"E": 537.059, "I": 105.4, "t": "(c)"}]}, "mark": {"type": "text", "align": "left", "baseline": "alphabetic", "fontSize": 28, "color": "#111"}, "encoding": {"y": {"field": "I", "type": "quantitative"}, "text": {"field": "t"}}},
{"data": {"values": [{"E": 535.663, "I": 98.9, "t": "O"}, {"E": 535.082, "I": 98.9, "t": ": 23.5%"}]}, "mark": {"type": "text", "align": "left", "baseline": "alphabetic", "fontSize": 22, "color": "#2323d8"}, "encoding": {"y": {"field": "I", "type": "quantitative"}, "text": {"field": "t"}}},
{"data": {"values": [{"E": 535.242, "I": 98.9, "t": "v"}]}, "mark": {"type": "text", "align": "left", "baseline": "alphabetic", "fontSize": 13, "dy": 5, "color": "#2323d8"}, "encoding": {"y": {"field": "I", "type": "quantitative"}, "text": {"field": "t"}}},
{"data": {"values": [{"E": 535.663, "I": 86.5, "t": "O"}, {"E": 535.082, "I": 86.5, "t": "/O"}, {"E": 534.136, "I": 86.5, "t": "="}, {"E": 533.545, "I": 86.5, "t": "0.35"}]}, "mark": {"type": "text", "align": "left", "baseline": "alphabetic", "fontSize": 22, "color": "#111"}, "encoding": {"y": {"field": "I", "type": "quantitative"}, "text": {"field": "t"}}},
{"data": {"values": [{"E": 535.242, "I": 86.5, "t": "v"}, {"E": 534.51, "I": 86.5, "t": "L"}]}, "mark": {"type": "text", "align": "left", "baseline": "alphabetic", "fontSize": 13, "dy": 5, "color": "#111"}, "encoding": {"y": {"field": "I", "type": "quantitative"}, "text": {"field": "t"}}}
]
},
{
"width": 406, "height": 255, "data": {"name": "xps"},
"encoding": {"x": {"field": "E", "type": "quantitative", "scale": {"domain": [526, 536], "reverse": true, "nice": false, "zero": false}, "axis": {"title": "Binding Energy (eV)", "values": [526,527,528,529,530,531,532,533,534,535,536], "labelExpr": "datum.value % 2 === 0 ? datum.label : ''", "grid": false, "domain": false, "tickColor": "#555", "tickSize": 6, "labelFontSize": 14, "labelColor": "#555", "labelPadding": 3, "labelFlush": false, "titleFontSize": 18, "titleFontWeight": "normal", "titleColor": "#333", "titlePadding": 6}}},
"layer": [
{"mark": {"type": "area", "interpolate": "monotone", "fill": {"gradient": "linear", "x1": 0, "y1": 0, "x2": 0, "y2": 1, "stops": [{"offset": 0, "color": "#c9c9c9"}, {"offset": 1, "color": "#fdfdfd"}]}}, "encoding": {"y": {"field": "L", "type": "quantitative", "scale": {"domain": [-6.34, 118.05], "nice": false, "zero": false}, "axis": {"title": "Intensity (a.u.)", "labels": false, "ticks": false, "domain": false, "grid": false, "titleFontSize": 18, "titleFontWeight": "normal", "titleColor": "#333", "titlePadding": 19}}}},
{"mark": {"type": "line", "interpolate": "monotone", "stroke": "#b4b4b4", "strokeWidth": 1.3}, "encoding": {"y": {"field": "L", "type": "quantitative"}}},
{"mark": {"type": "area", "interpolate": "monotone", "fillOpacity": 0.85, "fill": {"gradient": "linear", "x1": 0, "y1": 0, "x2": 0, "y2": 1, "stops": [{"offset": 0, "color": "#6a6ae8"}, {"offset": 1, "color": "#d9d9f8"}]}}, "encoding": {"y": {"field": "VG", "type": "quantitative"}}},
{"mark": {"type": "line", "interpolate": "monotone", "stroke": "#5b5be8", "strokeWidth": 1.2}, "encoding": {"y": {"field": "VG", "type": "quantitative"}}},
{"mark": {"type": "line", "interpolate": "monotone", "strokeWidth": 2.2, "stroke": {"gradient": "linear", "x1": 0, "y1": 0, "x2": 1, "y2": 0, "stops": [{"offset": 0, "color": "#3ee23e"}, {"offset": 0.31, "color": "#3ee23e"}, {"offset": 0.34, "color": "#4c9eab"}, {"offset": 1, "color": "#3d9b8e"}]}}, "encoding": {"y": {"field": "CG", "type": "quantitative"}}},
{"mark": {"type": "line", "interpolate": "monotone", "stroke": "#7c7c7c", "strokeWidth": 2.6}, "encoding": {"y": {"field": "FG", "type": "quantitative"}}},
{"mark": {"type": "point", "shape": "circle", "filled": false, "color": "#999999", "strokeWidth": 1, "size": 50, "opacity": 0.8}, "encoding": {"y": {"field": "od", "type": "quantitative"}}},
{"data": {"values": [{"E": 537.133, "I": 110.6, "t": "(d)"}]}, "mark": {"type": "text", "align": "left", "baseline": "alphabetic", "fontSize": 28, "color": "#111"}, "encoding": {"y": {"field": "I", "type": "quantitative"}, "text": {"field": "t"}}},
{"data": {"values": [{"E": 535.589, "I": 103.8, "t": "O"}, {"E": 535.008, "I": 103.8, "t": ": 24%"}]}, "mark": {"type": "text", "align": "left", "baseline": "alphabetic", "fontSize": 22, "color": "#2323d8"}, "encoding": {"y": {"field": "I", "type": "quantitative"}, "text": {"field": "t"}}},
{"data": {"values": [{"E": 535.168, "I": 103.8, "t": "v"}]}, "mark": {"type": "text", "align": "left", "baseline": "alphabetic", "fontSize": 13, "dy": 5, "color": "#2323d8"}, "encoding": {"y": {"field": "I", "type": "quantitative"}, "text": {"field": "t"}}},
{"data": {"values": [{"E": 535.589, "I": 90.7, "t": "O"}, {"E": 535.008, "I": 90.7, "t": "/O"}, {"E": 534.062, "I": 90.7, "t": "="}, {"E": 533.471, "I": 90.7, "t": "0.36"}]}, "mark": {"type": "text", "align": "left", "baseline": "alphabetic", "fontSize": 22, "color": "#111"}, "encoding": {"y": {"field": "I", "type": "quantitative"}, "text": {"field": "t"}}},
{"data": {"values": [{"E": 535.168, "I": 90.7, "t": "v"}, {"E": 534.436, "I": 90.7, "t": "L"}]}, "mark": {"type": "text", "align": "left", "baseline": "alphabetic", "fontSize": 13, "dy": 5, "color": "#111"}, "encoding": {"y": {"field": "I", "type": "quantitative"}, "text": {"field": "t"}}}
]
},
{
"width": 406, "height": 255, "data": {"name": "xps"},
"encoding": {"x": {"field": "E", "type": "quantitative", "scale": {"domain": [526, 536], "reverse": true, "nice": false, "zero": false}, "axis": {"title": "Binding Energy (eV)", "values": [526,527,528,529,530,531,532,533,534,535,536], "labelExpr": "datum.value % 2 === 0 ? datum.label : ''", "grid": false, "domain": false, "tickColor": "#555", "tickSize": 6, "labelFontSize": 14, "labelColor": "#555", "labelPadding": 3, "labelFlush": false, "titleFontSize": 18, "titleFontWeight": "normal", "titleColor": "#333", "titlePadding": 6}}},
"layer": [
{"mark": {"type": "area", "interpolate": "monotone", "fill": {"gradient": "linear", "x1": 0, "y1": 0, "x2": 0, "y2": 1, "stops": [{"offset": 0, "color": "#c9c9c9"}, {"offset": 1, "color": "#fdfdfd"}]}}, "encoding": {"y": {"field": "L", "type": "quantitative", "scale": {"domain": [-5.81, 108.23], "nice": false, "zero": false}, "axis": {"title": "Intensity (a.u.)", "labels": false, "ticks": false, "domain": false, "grid": false, "titleFontSize": 18, "titleFontWeight": "normal", "titleColor": "#333", "titlePadding": 19}}}},
{"mark": {"type": "line", "interpolate": "monotone", "stroke": "#b4b4b4", "strokeWidth": 1.3}, "encoding": {"y": {"field": "L", "type": "quantitative"}}},
{"mark": {"type": "area", "interpolate": "monotone", "fillOpacity": 0.85, "fill": {"gradient": "linear", "x1": 0, "y1": 0, "x2": 0, "y2": 1, "stops": [{"offset": 0, "color": "#6a6ae8"}, {"offset": 1, "color": "#d9d9f8"}]}}, "encoding": {"y": {"field": "VG", "type": "quantitative"}}},
{"mark": {"type": "line", "interpolate": "monotone", "stroke": "#5b5be8", "strokeWidth": 1.2}, "encoding": {"y": {"field": "VG", "type": "quantitative"}}},
{"mark": {"type": "line", "interpolate": "monotone", "strokeWidth": 2.2, "stroke": {"gradient": "linear", "x1": 0, "y1": 0, "x2": 1, "y2": 0, "stops": [{"offset": 0, "color": "#3ee23e"}, {"offset": 0.3, "color": "#3ee23e"}, {"offset": 0.33, "color": "#4c9eab"}, {"offset": 1, "color": "#3d9b8e"}]}}, "encoding": {"y": {"field": "CG", "type": "quantitative"}}},
{"mark": {"type": "line", "interpolate": "monotone", "stroke": "#7c7c7c", "strokeWidth": 2.6}, "encoding": {"y": {"field": "FG", "type": "quantitative"}}},
{"mark": {"type": "point", "shape": "circle", "filled": false, "color": "#999999", "strokeWidth": 1, "size": 50, "opacity": 0.8}, "encoding": {"y": {"field": "oe", "type": "quantitative"}}},
{"data": {"values": [{"E": 537.101, "I": 97.9, "t": "(e)"}]}, "mark": {"type": "text", "align": "left", "baseline": "alphabetic", "fontSize": 28, "color": "#111"}, "encoding": {"y": {"field": "I", "type": "quantitative"}, "text": {"field": "t"}}},
{"data": {"values": [{"E": 535.663, "I": 92.4, "t": "O"}, {"E": 535.082, "I": 92.4, "t": ": 24.2%"}]}, "mark": {"type": "text", "align": "left", "baseline": "alphabetic", "fontSize": 22, "color": "#2323d8"}, "encoding": {"y": {"field": "I", "type": "quantitative"}, "text": {"field": "t"}}},
{"data": {"values": [{"E": 535.242, "I": 92.4, "t": "v"}]}, "mark": {"type": "text", "align": "left", "baseline": "alphabetic", "fontSize": 13, "dy": 5, "color": "#2323d8"}, "encoding": {"y": {"field": "I", "type": "quantitative"}, "text": {"field": "t"}}},
{"data": {"values": [{"E": 535.663, "I": 80.5, "t": "O"}, {"E": 535.082, "I": 80.5, "t": "/O"}, {"E": 534.136, "I": 80.5, "t": "="}, {"E": 533.545, "I": 80.5, "t": "0.370"}]}, "mark": {"type": "text", "align": "left", "baseline": "alphabetic", "fontSize": 22, "color": "#111"}, "encoding": {"y": {"field": "I", "type": "quantitative"}, "text": {"field": "t"}}},
{"data": {"values": [{"E": 535.242, "I": 80.5, "t": "v"}, {"E": 534.51, "I": 80.5, "t": "L"}]}, "mark": {"type": "text", "align": "left", "baseline": "alphabetic", "fontSize": 13, "dy": 5, "color": "#111"}, "encoding": {"y": {"field": "I", "type": "quantitative"}, "text": {"field": "t"}}}
]
},
{
"width": 406, "height": 255, "data": {"name": "xps"},
"encoding": {"x": {"field": "E", "type": "quantitative", "scale": {"domain": [526, 536], "reverse": true, "nice": false, "zero": false}, "axis": {"title": "Binding Energy (eV)", "values": [526,527,528,529,530,531,532,533,534,535,536], "labelExpr": "datum.value % 2 === 0 ? datum.label : ''", "grid": false, "domain": false, "tickColor": "#555", "tickSize": 6, "labelFontSize": 14, "labelColor": "#555", "labelPadding": 3, "labelFlush": false, "titleFontSize": 18, "titleFontWeight": "normal", "titleColor": "#333", "titlePadding": 6}}},
"layer": [
{"mark": {"type": "area", "interpolate": "monotone", "fill": {"gradient": "linear", "x1": 0, "y1": 0, "x2": 0, "y2": 1, "stops": [{"offset": 0, "color": "#c9c9c9"}, {"offset": 1, "color": "#fdfdfd"}]}}, "encoding": {"y": {"field": "L", "type": "quantitative", "scale": {"domain": [-7.04, 131.09], "nice": false, "zero": false}, "axis": {"title": "Intensity (a.u.)", "labels": false, "ticks": false, "domain": false, "grid": false, "titleFontSize": 18, "titleFontWeight": "normal", "titleColor": "#333", "titlePadding": 19}}}},
{"mark": {"type": "line", "interpolate": "monotone", "stroke": "#b4b4b4", "strokeWidth": 1.3}, "encoding": {"y": {"field": "L", "type": "quantitative"}}},
{"mark": {"type": "area", "interpolate": "monotone", "fillOpacity": 0.85, "fill": {"gradient": "linear", "x1": 0, "y1": 0, "x2": 0, "y2": 1, "stops": [{"offset": 0, "color": "#6a6ae8"}, {"offset": 1, "color": "#d9d9f8"}]}}, "encoding": {"y": {"field": "VG", "type": "quantitative"}}},
{"mark": {"type": "line", "interpolate": "monotone", "stroke": "#5b5be8", "strokeWidth": 1.2}, "encoding": {"y": {"field": "VG", "type": "quantitative"}}},
{"mark": {"type": "line", "interpolate": "monotone", "strokeWidth": 2.2, "stroke": {"gradient": "linear", "x1": 0, "y1": 0, "x2": 1, "y2": 0, "stops": [{"offset": 0, "color": "#3ee23e"}, {"offset": 0.31, "color": "#3ee23e"}, {"offset": 0.34, "color": "#4c9eab"}, {"offset": 1, "color": "#3d9b8e"}]}}, "encoding": {"y": {"field": "CG", "type": "quantitative"}}},
{"mark": {"type": "line", "interpolate": "monotone", "stroke": "#7c7c7c", "strokeWidth": 2.6}, "encoding": {"y": {"field": "FG", "type": "quantitative"}}},
{"mark": {"type": "point", "shape": "circle", "filled": false, "color": "#999999", "strokeWidth": 1, "size": 50, "opacity": 0.8}, "encoding": {"y": {"field": "of", "type": "quantitative"}}},
{"data": {"values": [{"E": 536.968, "I": 118.4, "t": "(f)"}]}, "mark": {"type": "text", "align": "left", "baseline": "alphabetic", "fontSize": 28, "color": "#111"}, "encoding": {"y": {"field": "I", "type": "quantitative"}, "text": {"field": "t"}}},
{"data": {"values": [{"E": 535.589, "I": 112.0, "t": "O"}, {"E": 535.008, "I": 112.0, "t": ": 25.2%"}]}, "mark": {"type": "text", "align": "left", "baseline": "alphabetic", "fontSize": 22, "color": "#2323d8"}, "encoding": {"y": {"field": "I", "type": "quantitative"}, "text": {"field": "t"}}},
{"data": {"values": [{"E": 535.168, "I": 112.0, "t": "v"}]}, "mark": {"type": "text", "align": "left", "baseline": "alphabetic", "fontSize": 13, "dy": 5, "color": "#2323d8"}, "encoding": {"y": {"field": "I", "type": "quantitative"}, "text": {"field": "t"}}},
{"data": {"values": [{"E": 535.589, "I": 97.5, "t": "O"}, {"E": 535.008, "I": 97.5, "t": "/O"}, {"E": 534.062, "I": 97.5, "t": "="}, {"E": 533.471, "I": 97.5, "t": "0.39"}]}, "mark": {"type": "text", "align": "left", "baseline": "alphabetic", "fontSize": 22, "color": "#111"}, "encoding": {"y": {"field": "I", "type": "quantitative"}, "text": {"field": "t"}}},
{"data": {"values": [{"E": 535.168, "I": 97.5, "t": "v"}, {"E": 534.436, "I": 97.5, "t": "L"}]}, "mark": {"type": "text", "align": "left", "baseline": "alphabetic", "fontSize": 13, "dy": 5, "color": "#111"}, "encoding": {"y": {"field": "I", "type": "quantitative"}, "text": {"field": "t"}}}
]
}
]
}
